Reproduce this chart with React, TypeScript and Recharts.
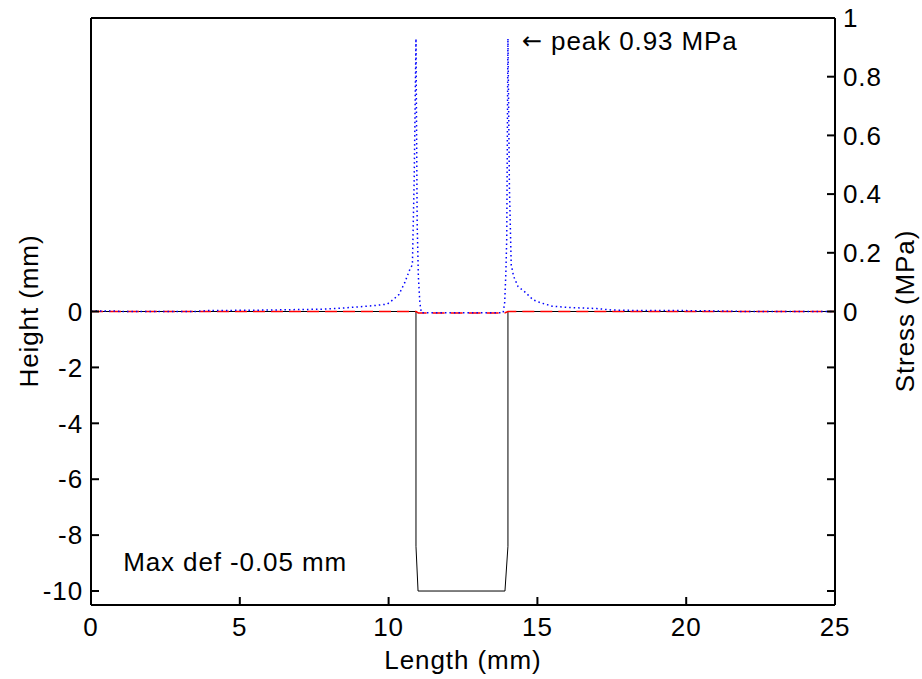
import { LineChart, Line, XAxis, YAxis, ReferenceDot } from 'recharts';

// axis ticks
const lengthTicks = [0, 5, 10, 15, 20, 25];
const heightTicks = [-10, -8, -6, -4, -2, 0];
const stressTicks = [0, 0.2, 0.4, 0.6, 0.8, 1];

// groove profile (mm)
const profileX = [0, 10.92, 10.92, 10.99, 13.91, 14.01, 14.01, 25];
const profileHeight = [0, 0, -8.4, -10, -10, -8.4, 0, 0];

// deformed surface (mm)
const deformX = [0, 10.92, 11.0, 13.9, 14.01, 25];
const deformHeight = [0, 0, -0.05, -0.05, 0, 0];

// contact stress (MPa)
const stressX = [
  0, 0.7, 1, 3.5, 3.9, 6, 7.8, 8.5, 9, 9.5, 9.95, 10.15, 10.35, 10.55, 10.7, 10.8, 10.86, 10.92,
  10.96, 11.0, 11.05, 11.1, 12.5, 13.85, 13.9, 13.94, 13.97, 14.01, 14.06, 14.12, 14.2, 14.35,
  14.6, 14.85, 15.1, 15.5, 16, 17, 17.5, 18, 19, 20, 21, 22, 25,
];
const stressValue = [
  0.002, 0.002, 0, 0, 0.003, 0.005, 0.008, 0.012, 0.016, 0.02, 0.025, 0.04, 0.058, 0.1, 0.14, 0.16,
  0.45, 0.93, 0.3, 0.12, 0.03, -0.004, -0.004, -0.004, 0.03, 0.13, 0.25, 0.93, 0.42, 0.16, 0.12,
  0.085, 0.065, 0.04, 0.03, 0.018, 0.014, 0.01, 0.005, 0.004, 0.003, 0.003, 0.002, 0, 0,
];

const profileData = profileX.map((x, i) => ({ x, h: profileHeight[i] }));
const deformData = deformX.map((x, i) => ({ x, d: deformHeight[i] }));
const stressData = stressX.map((x, i) => ({ x, s: stressValue[i] }));

const FONT = 'Liberation Sans, Arial, sans-serif';
const FS = 26;
const LS = 0.9;
const tickStyle = { fill: '#000', fontSize: FS, fontFamily: FONT, letterSpacing: LS };
const axisLine = { stroke: '#000', strokeWidth: 2 };
const tickLine = { stroke: '#000', strokeWidth: 2 };

// right axis also carries the height ticks (box mirror)
const heightMax = 10.5;
const rightTicks = [...heightTicks.filter((t) => t < 0).map((t) => t / heightMax), ...stressTicks];

const PeakLabel = (props: any) => {
  const vb = props.viewBox || {};
  return (
    <text x={vb.x} y={vb.y} dominantBaseline="central" fontSize={FS} fontFamily={FONT} letterSpacing={LS} fill="#000">
      <tspan fontFamily="DejaVu Sans" fontSize={24}>{'\u2190'}</tspan>
      {' peak 0.93 MPa'}
    </text>
  );
};

const DefLabel = (props: any) => {
  const vb = props.viewBox || {};
  return (
    <text x={vb.x} y={vb.y} dominantBaseline="central" fontSize={FS} fontFamily={FONT} letterSpacing={LS} fill="#000">
      Max def -0.05 mm
    </text>
  );
};

export default function App() {
  return (
    <div style={{ position: 'absolute', left: 0, top: 0, width: 922, height: 679, background: '#fff' }}>
      <LineChart width={922} height={679} margin={{ top: 17, right: 0, bottom: 0, left: 0 }}>
        <XAxis
          xAxisId="len"
          dataKey="x"
          type="number"
          domain={[0, 25]}
          ticks={lengthTicks}
          height={74}
          tickSize={-8}
          tickMargin={21}
          axisLine={axisLine}
          tickLine={tickLine}
          tick={tickStyle}
          allowDataOverflow
        />
        <XAxis
          xAxisId="lenTop"
          orientation="top"
          dataKey="x"
          type="number"
          domain={[0, 25]}
          ticks={lengthTicks}
          height={1}
          tickSize={-8}
          axisLine={axisLine}
          tickLine={tickLine}
          tickFormatter={() => ''}
        />
        <YAxis
          yAxisId="height"
          type="number"
          domain={[-heightMax, heightMax]}
          ticks={heightTicks}
          width={91}
          tickSize={-8}
          tickMargin={16}
          axisLine={axisLine}
          tickLine={tickLine}
          tick={tickStyle}
          allowDataOverflow
        />
        <YAxis
          yAxisId="stress"
          orientation="right"
          type="number"
          domain={[-1, 1]}
          ticks={rightTicks}
          width={87}
          tickSize={-8}
          tickMargin={16}
          axisLine={axisLine}
          tickLine={tickLine}
          tick={tickStyle}
          tickFormatter={(v: number) => (v < 0 ? '' : String(v))}
          allowDataOverflow
        />
        <Line
          data={profileData}
          xAxisId="len"
          yAxisId="height"
          dataKey="h"
          type="linear"
          stroke="#000"
          strokeWidth={1}
          dot={false}
          activeDot={false}
          isAnimationActive={false}
        />
        <Line
          data={deformData}
          xAxisId="len"
          yAxisId="height"
          dataKey="d"
          type="linear"
          stroke="#ff0000"
          strokeWidth={1.5}
          strokeDasharray="12 6"
          dot={false}
          activeDot={false}
          isAnimationActive={false}
        />
        <Line
          data={stressData}
          xAxisId="len"
          yAxisId="stress"
          dataKey="s"
          type="linear"
          stroke="#0000ff"
          strokeWidth={1.5}
          strokeDasharray="1.5 3"
          dot={false}
          activeDot={false}
          isAnimationActive={false}
        />
        <ReferenceDot xAxisId="len" yAxisId="stress" x={14.48} y={0.92} r={0} label={<PeakLabel />} />
        <ReferenceDot xAxisId="len" yAxisId="height" x={1.08} y={-8.96} r={0} label={<DefLabel />} />
        <text x={29} y={311} transform="rotate(-90 29 311)" textAnchor="middle" dominantBaseline="central" fontSize={FS} fontFamily={FONT} letterSpacing={LS} fill="#000">
          Height (mm)
        </text>
        <text x={905} y={311} transform="rotate(-90 905 311)" textAnchor="middle" dominantBaseline="central" fontSize={FS} fontFamily={FONT} letterSpacing={LS} fill="#000">
          Stress (MPa)
        </text>
        <text x={463} y={660} textAnchor="middle" dominantBaseline="central" fontSize={FS} fontFamily={FONT} letterSpacing={LS} fill="#000">
          Length (mm)
        </text>
      </LineChart>
    </div>
  );
}
